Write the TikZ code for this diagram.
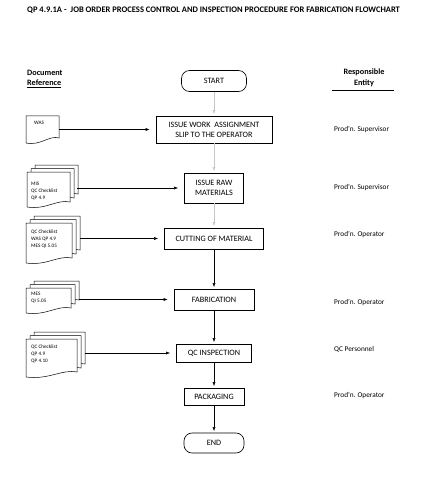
\documentclass[tikz,border=0pt]{standalone}
\usepackage{fontspec}
\setmainfont{Carlito}
\usetikzlibrary{arrows.meta}
\newcommand\docpg[4]{%
  \pgfmathsetmacro\dw{#3-#1}%
  \filldraw[docline] (#1,#2) -- (#3,#2) -- (#3,#4-5)
    .. controls (#3-0.3*\dw,#4-8) and (#1+0.45*\dw,#4+3) .. (#1,#4) -- cycle;}
\newcommand\multidoc[4]{%
  \docpg{#1+8}{#2-7}{#3+8}{#4-8}%
  \docpg{#1+4}{#2-3.5}{#3+4}{#4-4}%
  \docpg{#1}{#2}{#3}{#4}}
\begin{document}
\begin{tikzpicture}[x=1pt,y=-1pt,
  docline/.style={fill=white,draw=black,line width=0.5pt},
  proc/.style={draw,line width=0.65pt,inner sep=0pt,align=center,
    font=\fontsize{8.2}{10}\selectfont},
  term/.style={proc,rounded corners=8pt},
  doctext/.style={anchor=north west,align=left,inner sep=0pt,
    font=\fontsize{5.2}{7.2}\selectfont},
  docbox/.style={inner sep=0pt},
  resp/.style={anchor=west,inner sep=0pt,font=\fontsize{7.3}{8}\selectfont},
  head/.style={inner sep=0pt,font=\bfseries\fontsize{8.2}{9}\selectfont},
  arr/.style={line width=0.45pt,-{Latex[length=4pt,width=3pt]},shorten >=6pt},
  varr/.style={line width=0.45pt,-{Latex[length=4pt,width=3pt]},shorten >=1.5pt},
  faint/.style={draw=gray!45}]
\useasboundingbox (0,0) rectangle (425,500);
\fill[white] (0,0) rectangle (425,500);
% title
\node[anchor=west,inner sep=0pt,font=\bfseries\fontsize{8.5}{10}\selectfont] (title) at (27,10)
  {QP 4.9.1A -\ \ JOB ORDER PROCESS CONTROL AND INSPECTION PROCEDURE FOR FABRICATION FLOWCHART};
% headers
\node[head,anchor=west] (h1) at (27,73) {Document};
\node[head,anchor=west] (h2) at (27,84) {\underline{Reference}};
\node[head] (h3) at (364,72) {Responsible};
\node[head] (h4) at (364,83) {Entity};
\draw[line width=0.6pt] ([xshift=-32pt,yshift=-4pt]h4.south) -- ([xshift=30pt,yshift=-4pt]h4.south);
% process
\node[term,minimum width=65pt,minimum height=21pt] (start) at (214,81) {START};
\node[proc,minimum width=116pt,minimum height=27pt] (b1) at (214,129.5) {ISSUE WORK\ \ ASSIGNMENT\\SLIP TO THE OPERATOR};
\node[proc,minimum width=59pt,minimum height=30pt] (b2) at (214,188) {ISSUE RAW\\MATERIALS};
\node[proc,minimum width=99pt,minimum height=21pt] (b3) at (214,238.5) {CUTTING OF MATERIAL};
\node[proc,minimum width=80pt,minimum height=21pt] (b4) at (214,299.5) {FABRICATION};
\node[proc,minimum width=75pt,minimum height=18pt] (b5) at (214,353) {QC INSPECTION};
\node[proc,minimum width=60pt,minimum height=17pt] (b6) at (214,396.5) {PACKAGING};
\node[term,minimum width=60pt,minimum height=20pt] (end) at (214,443) {END};
\draw[varr,faint] (start) -- (b1);
\draw[varr,faint] (b1) -- (b2);
\draw[varr,faint] (b2) -- (b3);
\draw[varr] (b3) -- (b4);
\draw[varr] (b4) -- (b5);
\draw[varr] (b5) -- (b6);
\draw[varr] (b6) -- (end);
% documents
\docpg{26}{116}{59}{143}
\node[docbox,minimum width=33pt,minimum height=27pt] (d1) at (42.5,129.5) {};
\node[doctext] (t1) at (34,121) {WAS};
\multidoc{27}{172}{70}{207}
\node[docbox,minimum width=50pt,minimum height=41pt] (d2) at (52,186.5) {};
\node[doctext] (t2) at (31,181.5) {MIS\\QC Checklist\\QP 4.9};
\multidoc{26}{223}{72}{263}
\node[docbox,minimum width=54pt,minimum height=47pt] (d3) at (53,239.5) {};
\node[doctext] (t3) at (31,229.5) {QC Checklist\\WAS QP 4.9\\MES QI 5.05};
\multidoc{26}{288}{71}{313}
\node[docbox,minimum width=53pt,minimum height=31pt] (d4) at (52.5,297) {};
\node[doctext] (t4) at (31,292) {MES\\QI 5.05};
\multidoc{26}{339}{77}{377}
\node[docbox,minimum width=59pt,minimum height=45pt] (d5) at (55.5,354.5) {};
\node[doctext] (t5) at (31,344.5) {QC Checklist\\QP 4.9\\QP 4.10};
\draw[arr] (d1.east |- b1.west) -- (b1.west);
\draw[arr] (d2.east |- b2.west) -- (b2.west);
\draw[arr] (d3.east |- b3.west) -- (b3.west);
\draw[arr] (d4.east |- b4.west) -- (b4.west);
\draw[arr] (d5.east |- b5.west) -- (b5.west);
% responsible
\node[resp] (r1) at (334,130) {Prod'n. Supervisor};
\node[resp] (r2) at (334,188) {Prod'n. Supervisor};
\node[resp] (r3) at (334,235) {Prod'n. Operator};
\node[resp] (r4) at (334,303) {Prod'n. Operator};
\node[resp] (r5) at (334,349) {QC Personnel};
\node[resp] (r6) at (334,396) {Prod'n. Operator};
\end{tikzpicture}
\end{document}
